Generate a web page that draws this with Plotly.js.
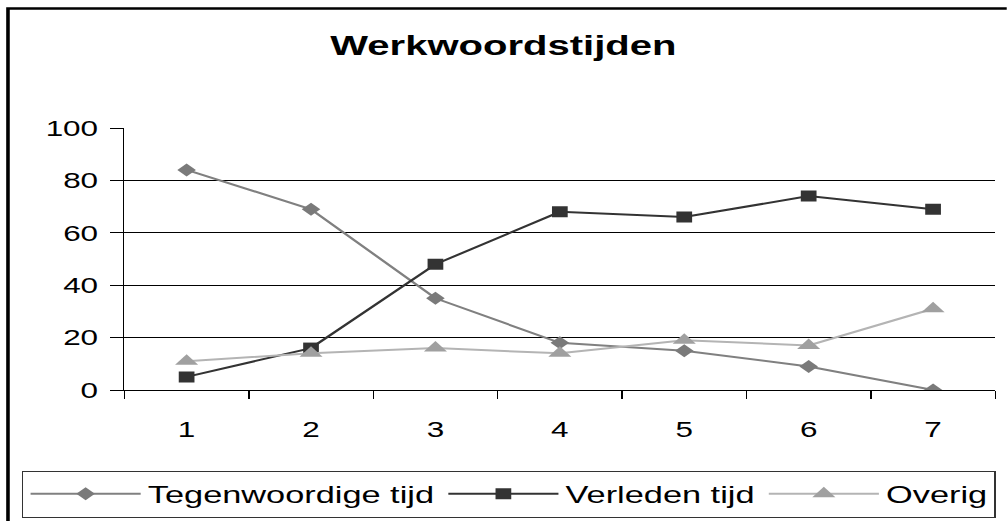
<!DOCTYPE html>
<html>
<head>
<meta charset="utf-8">
<script src="https://cdn.plot.ly/plotly-3.0.1.min.js"></script>
<style>
  html, body { margin: 0; padding: 0; background: #ffffff; overflow: hidden; }
  #wrap { width: 1007px; height: 521px; overflow: hidden; }
  /* the chart uses a wide, horizontally stretched look */
  #chart { width: 704px; height: 521px; transform: scaleX(1.43); transform-origin: 0 0; }
</style>
</head>
<body>
<div id="wrap"><div id="chart"></div></div>
<script>
const categories = ['1', '2', '3', '4', '5', '6', '7'];
const tegenwoordigeTijd = [84, 69, 35, 18, 15, 9, 0];
const verledenTijd = [5, 16, 48, 68, 66, 74, 69];
const overig = [11, 14, 16, 14, 19, 17, 31];
const seriesNames = ['Tegenwoordige tijd', 'Verleden tijd', 'Overig'];
const yTicks = [0, 20, 40, 60, 80, 100];

const font = 'Liberation Sans, Arial, sans-serif';

const traces = [
  {
    x: categories, y: tegenwoordigeTijd, name: seriesNames[0],
    type: 'scatter', mode: 'lines+markers',
    line: { color: '#808080', width: 2 },
    marker: { symbol: 'diamond', size: 10, color: '#7a7a7a' }
  },
  {
    x: categories, y: verledenTijd, name: seriesNames[1],
    type: 'scatter', mode: 'lines+markers',
    line: { color: '#333333', width: 2 },
    marker: { symbol: 'square', size: 11, color: '#333333' }
  },
  {
    x: categories, y: overig, name: seriesNames[2],
    type: 'scatter', mode: 'lines+markers',
    line: { color: '#b4b4b4', width: 2 },
    marker: { symbol: 'triangle-up', size: 14, color: '#a0a0a0' }
  }
];

const layout = {
  width: 704, height: 521,
  margin: { l: 87, r: 8, t: 128, b: 131, autoexpand: false },
  paper_bgcolor: '#ffffff', plot_bgcolor: '#ffffff',
  font: { family: font, color: '#000000', size: 22 },
  showlegend: true,
  title: {
    text: '<b>Werkwoordstijden</b>',
    font: { family: font, size: 28, color: '#000000' },
    x: 0.5, xref: 'container', xanchor: 'center',
    y: 1 - 45 / 521, yref: 'container', yanchor: 'middle'
  },
  xaxis: {
    type: 'category',
    range: [-0.5, 6.5],
    tickson: 'boundaries',
    ticks: 'outside', ticklen: 8, tickcolor: '#000000', tickwidth: 1,
    showline: true, linecolor: '#000000', linewidth: 1,
    showgrid: false, zeroline: false,
    ticklabelstandoff: 20,
    tickfont: { family: font, size: 22, color: '#000000' },
    fixedrange: true
  },
  yaxis: {
    range: [0, 100], tickvals: yTicks,
    ticks: 'outside', ticklen: 9, tickcolor: '#000000', tickwidth: 1,
    showline: true, linecolor: '#000000', linewidth: 1,
    showgrid: true, gridcolor: '#000000', gridwidth: 1,
    zeroline: false, ticklabelstandoff: 4,
    tickfont: { family: font, size: 22, color: '#000000' },
    fixedrange: true
  },
  legend: {
    orientation: 'h',
    x: -0.1176, xanchor: 'left',
    y: -0.308, yanchor: 'top',
    bgcolor: '#ffffff', bordercolor: '#333333', borderwidth: 1,
    font: { family: font, size: 24, color: '#000000' },
    itemwidth: 77,
    traceorder: 'normal'
  },
  shapes: [
    {
      type: 'rect', xref: 'paper', yref: 'paper',
      x0: -0.1337, x1: 1.2, y0: -0.7, y1: 1.456,
      line: { color: '#000000', width: 2.5 }, fillcolor: 'rgba(0,0,0,0)',
      layer: 'below'
    }
  ]
};

Plotly.newPlot('chart', traces, layout, { displayModeBar: false, staticPlot: true });
</script>
</body>
</html>
